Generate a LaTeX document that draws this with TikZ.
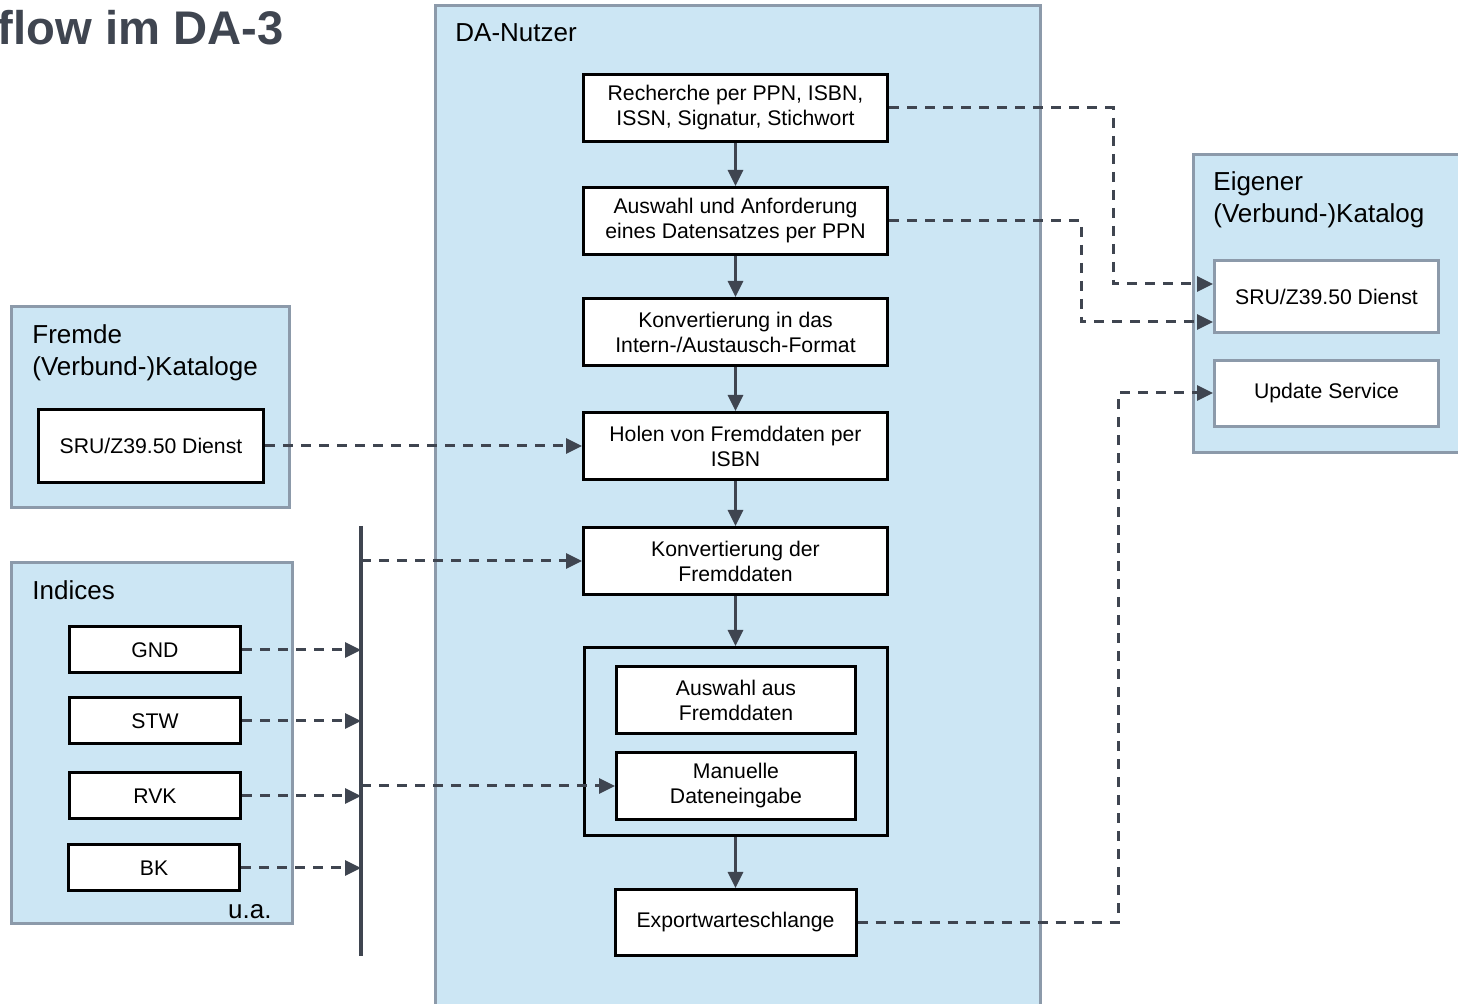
\documentclass[tikz,border=0pt]{standalone}
\usepackage{fontspec}
\setmainfont{Liberation Sans}
\usetikzlibrary{shapes}
\usetikzlibrary{positioning}
\usetikzlibrary{arrows.meta}
\definecolor{dablau}{RGB}{204,230,244}
\definecolor{rahmengrau}{RGB}{140,154,170}
\definecolor{pfeilgrau}{RGB}{63,69,80}

\begin{document}
\begin{tikzpicture}[x=0.5pt, y=-0.5pt,
    gruppe/.style={draw=rahmengrau, fill=dablau, line width=1.5pt},
    box/.style={draw, fill=white, line width=1.5pt, align=center, inner sep=2pt, font=\fontsize{10.6}{12.5}\selectfont},
    hauptbox/.style={box, minimum width=152pt, minimum height=33.5pt},
    idxbox/.style={box, minimum width=85.5pt, minimum height=23pt},
    gruppentext/.style={anchor=west, inner sep=0pt, align=left, font=\fontsize{13}{16}\selectfont},
    fluss/.style={draw=pfeilgrau, line width=1.5pt, -{Triangle[length=8pt,width=7.5pt]}},
    strich/.style={draw=pfeilgrau, line width=1.5pt, dash pattern=on 5pt off 4pt, -{Triangle[length=8pt,width=7.5pt]}}]

    \clip (0,0) rectangle (1458,1004);
    \fill[white] (0,0) rectangle (1458,1004);

    \node(kopf)[anchor=east, inner sep=0pt, text=pfeilgrau, font=\fontsize{23.6}{28}\selectfont\bfseries] at (284,28){flow im DA-3};

    % DA-Nutzer
    \path[gruppe] (435,6) rectangle (1040,1020);
    \node(datext)[gruppentext] at (455,33){DA-Nutzer};

    \node(rech)[hauptbox] at (735.5,108){Recherche per PPN, ISBN,\\ISSN, Signatur, Stichwort};
    \node(ausw)[hauptbox, below=21.5pt of rech]{Auswahl und Anforderung\\eines Datensatzes per PPN};
    \node(konv)[hauptbox, below=20.5pt of ausw]{Konvertierung in das\\Intern-/Austausch-Format};
    \node(holen)[hauptbox, below=22pt of konv]{Holen von Fremddaten per\\ISBN};
    \node(konvf)[hauptbox, below=22.5pt of holen]{Konvertierung der\\Fremddaten};
    \node(sel)[draw, line width=1.5pt, minimum width=151.5pt, minimum height=94pt, below=25pt of konvf]{};
    \node(auswf)[box, minimum width=119.5pt, minimum height=33.5pt] at (736,700){Auswahl aus\\Fremddaten};
    \node(manu)[box, minimum width=119.5pt, minimum height=33.5pt, below=8pt of auswf]{Manuelle\\Dateneingabe};
    \node(export)[box, minimum width=120.5pt, minimum height=33pt, below=25.5pt of sel]{Exportwarteschlange};

    \draw[fluss] (rech) -- (ausw);
    \draw[fluss] (ausw) -- (konv);
    \draw[fluss] (konv) -- (holen);
    \draw[fluss] (holen) -- (konvf);
    \draw[fluss] (konvf) -- (sel);
    \draw[fluss] (sel) -- (export);

    % Eigener Katalog
    \path[gruppe] (1193,155) rectangle (1480,453);
    \node(eigtext)[gruppentext] at (1213,200){Eigener\\(Verbund-)Katalog};
    \node(esru)[box, draw=rahmengrau, minimum width=112pt, minimum height=36pt] at (1326.5,296.5){SRU/Z39.50 Dienst};
    \node(upd)[box, draw=rahmengrau, minimum width=112pt, minimum height=33pt, below=12.5pt of esru]{Update Service};

    % Fremde Kataloge
    \path[gruppe] (11,307) rectangle (289,508);
    \node(fremdtext)[gruppentext] at (32,353){Fremde\\(Verbund-)Kataloge};
    \node(fsru)[box, minimum width=112.5pt, minimum height=36.5pt] at (151,446){SRU/Z39.50 Dienst};

    % Indices
    \path[gruppe] (11,563) rectangle (292,924);
    \node(idxtext)[gruppentext] at (32,590){Indices};
    \node(gnd)[idxbox] at (155,650){GND};
    \node(stw)[idxbox, below=11pt of gnd]{STW};
    \node(rvk)[idxbox, below=13pt of stw]{RVK};
    \node(bk)[idxbox, below=11.5pt of rvk, xshift=-0.5pt]{BK};
    \node(ua)[anchor=east, inner sep=0pt, font=\fontsize{13}{16}\selectfont] at (272,912){u.a.};

    \coordinate(bustop) at (361,526);
    \coordinate(busbot) at (361,956);
    \draw[pfeilgrau, line width=2pt] (bustop) -- (busbot);

    \draw[strich] (gnd.east) -- (gnd.east -| bustop);
    \draw[strich] (stw.east) -- (stw.east -| bustop);
    \draw[strich] (rvk.east) -- (rvk.east -| bustop);
    \draw[strich] (bk.east) -- (bk.east -| bustop);
    \draw[strich] (bustop |- konvf.west) -- (konvf.west);
    \draw[strich] (bustop |- manu.west) -- (manu.west);
    \draw[strich] (fsru.east) -- (holen.west);

    \coordinate(k1) at (1113,284);
    \coordinate(k2) at (1081,322);
    \coordinate(k3) at (1118,393);
    \draw[strich] (rech.east) -| (k1) -- (k1 -| esru.west);
    \draw[strich] (ausw.east) -| (k2) -- (k2 -| esru.west);
    \draw[strich] (export.east) -| (k3) -- (k3 -| upd.west);

\end{tikzpicture}
\end{document}
